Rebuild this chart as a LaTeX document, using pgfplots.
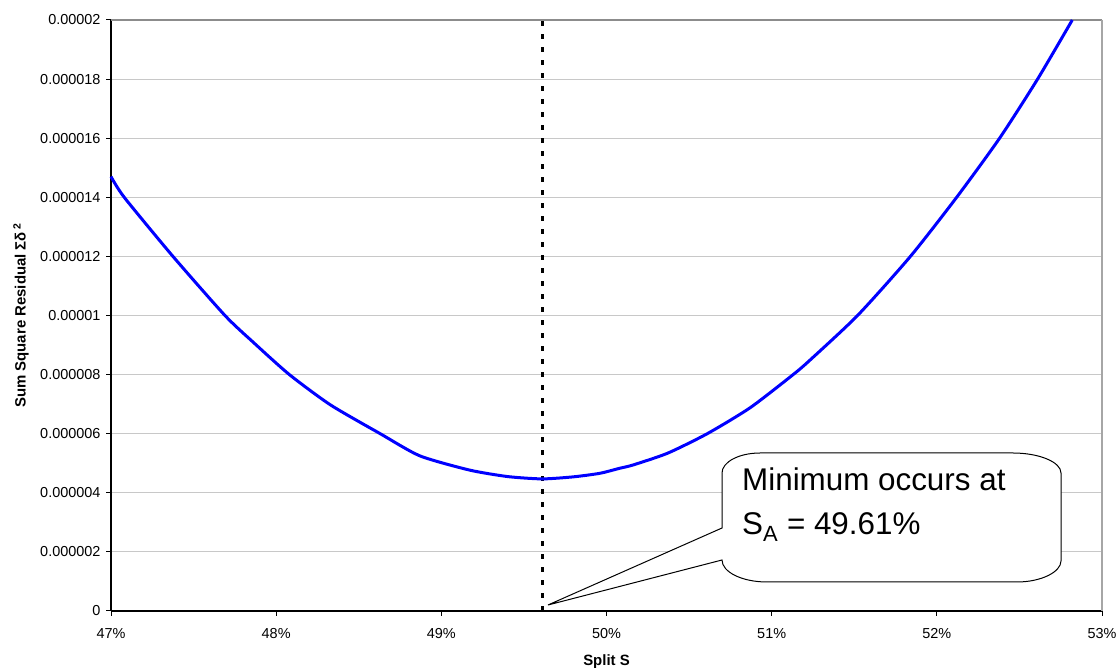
\documentclass[border=0pt]{standalone}
\usepackage{pgfplots}
\pgfplotsset{compat=1.18}
\usepackage{pgfplotstable}
\usepackage{fontspec}
\setmainfont{Liberation Sans}
\definecolor{gridgray}{RGB}{200,200,200}
\definecolor{bordtop}{RGB}{140,140,140}
\definecolor{bordright}{RGB}{166,166,166}
\definecolor{curveblue}{RGB}{0,0,255}
\pgfplotstableread{
x y
47.00 14.70e-6
47.08 14.00e-6
47.375 12.00e-6
47.69 10.00e-6
47.86 9.10e-6
48.08 8.00e-6
48.33 6.97e-6
48.63 6.00e-6
48.87 5.25e-6
49.17 4.77e-6
49.40 4.55e-6
49.61 4.47e-6
49.80 4.54e-6
49.96 4.66e-6
50.08 4.83e-6
50.16 4.94e-6
50.37 5.34e-6
50.61 6.00e-6
50.87 6.88e-6
51.13 8.00e-6
51.23 8.48e-6
51.52 10.00e-6
51.84 12.00e-6
52.12 14.00e-6
52.38 16.00e-6
52.61 18.00e-6
52.82 20.00e-6
}\residual
\begin{document}
\begin{tikzpicture}[x=1bp,y=1bp]
\useasboundingbox (0,0) rectangle (1117,668);
\begin{axis}[
  at={(111bp,57bp)}, anchor=south west,
  scale only axis, width=991bp, height=591bp,
  xmin=47, xmax=53, ymin=0, ymax=0.00002,
  axis x line*=bottom, axis y line*=left,
  axis line style={line width=1.2bp, black, -},
  xtick={47,48,49,50,51,52,53},
  xticklabels={47\%,48\%,49\%,50\%,51\%,52\%,53\%},
  ytick={0,2e-6,4e-6,6e-6,8e-6,1e-5,1.2e-5,1.4e-5,1.6e-5,1.8e-5,2e-5},
  yticklabels={0,0.000002,0.000004,0.000006,0.000008,0.00001,0.000012,0.000014,0.000016,0.000018,0.00002},
  scaled y ticks=false,
  tick align=outside, major tick length=5bp,
  tick style={black, line width=1bp},
  ymajorgrids, grid style={color=gridgray, line width=1.1bp},
  tick label style={font=\fontsize{14.5}{16}\selectfont},
  xticklabel style={yshift=-9bp},
  yticklabel style={xshift=-2bp},
  xlabel={Split S},
  ylabel={Sum Square Residual Σδ\,\textsuperscript{2}},
  every axis x label/.style={at={(axis description cs:0.5,-0.092)}, anchor=base, font=\bfseries\fontsize{15}{18}\selectfont},
  every axis y label/.style={at={(axis description cs:-0.0908,0.5)}, rotate=90, anchor=center, font=\bfseries\fontsize{15}{18}\selectfont},
  clip=false,
]
\draw[bordtop, line width=1.1bp] (rel axis cs:0,1) -- (rel axis cs:1,1);
\draw[bordright, line width=1.1bp] (rel axis cs:1,1) -- (rel axis cs:1,0);
\addplot[black, line width=3bp, dash pattern=on 5bp off 8bp] coordinates {(49.61,0) (49.61,0.00002)};
\addplot[curveblue, line width=3bp, smooth, tension=0.4] table[x=x, y=y] {\residual};
\end{axis}
% callout annotation
\draw[black, line width=1bp, fill=white]
  (722,140) -- (548,63) -- (722,108)
  .. controls (722,96) and (742,86) .. (767,86)
  -- (1017,86)
  .. controls (1041,86) and (1061,96) .. (1061,107)
  -- (1061,195)
  .. controls (1061,206) and (1039,215) .. (1013,215)
  -- (760,215)
  .. controls (739,215) and (722,206) .. (722,195)
  -- cycle;
\node[anchor=base west, inner sep=0pt, font=\fontsize{31.5}{36}\selectfont] at (742,177) {Minimum occurs at};
\node[anchor=base west, inner sep=0pt, font=\fontsize{31.5}{36}\selectfont] at (742,133) {S\textsubscript{A} = 49.61\%};
\end{tikzpicture}
\end{document}
